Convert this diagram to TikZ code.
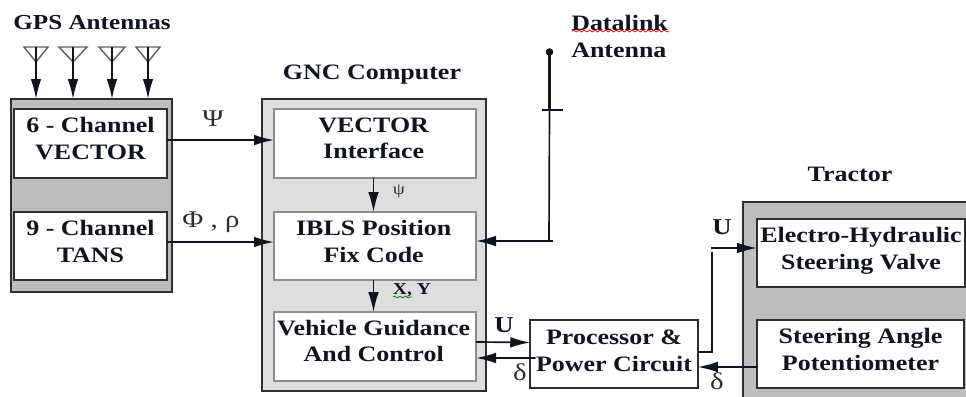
\documentclass[tikz,border=0pt]{standalone}
\usepackage{fontspec}
\setmainfont{Liberation Serif}[FakeStretch=1.18]
\newfontfamily\grk{Liberation Serif}[FakeStretch=1.2]
\usetikzlibrary{arrows.meta,decorations.pathmorphing}
\definecolor{ink}{HTML}{10141E}
\definecolor{midgray}{HTML}{BEBEBE}
\definecolor{lightgray}{HTML}{DEDEDE}
\definecolor{edge}{HTML}{2E2E2E}
\definecolor{softedge}{HTML}{8C8C8C}
\newcommand\twol[3][8pt]{\raisebox{#1}[0pt][0pt]{\begin{tabular}[t]{@{}c@{}}#2\\#3\end{tabular}}}
\tikzset{
  wh/.style 2 args={minimum width=#1*0.75pt,minimum height=#2*0.75pt},
  base/.style={inner sep=0pt,outer sep=0pt,rectangle},
  outerbox/.style={base,draw=edge,line width=1.4pt,fill=midgray},
  gncbox/.style={base,draw=edge,line width=1.4pt,fill=lightgray},
  whitebox/.style={base,draw=edge,line width=1.3pt,fill=white,text=ink,font=\bfseries\fontsize{16.5}{20}\selectfont},
  softbox/.style={whitebox,draw=softedge,line width=1.5pt},
  title/.style={inner sep=0pt,text=ink,font=\bfseries\fontsize{16.5}{20}\selectfont},
  sym/.style={inner sep=0pt,text=edge,font=\grk\fontsize{18}{20}\selectfont},
  boldsym/.style={inner sep=0pt,text=ink,font=\bfseries\fontsize{17}{20}\selectfont},
  conn/.style={draw=ink,line width=1.25pt,-{Latex[length=15pt,width=8pt]}},
  plain/.style={draw=ink,line width=1.25pt},
  fork/.style={draw=softedge!70!black,line width=1.1pt,line join=miter},
  squig/.style={line width=.6pt,decorate,decoration={snake,amplitude=.7pt,segment length=4pt}},
}
\begin{document}
\begin{tikzpicture}[x=.75pt,y=-.75pt]
\useasboundingbox (0,0) rectangle (966,396);
\clip (0,0) rectangle (966,396);
% containers
\node[outerbox,wh={161}{193}] (gps) at (91.5,195.5) {};
\node[gncbox,wh={224}{292}] (gnc) at (374,245) {};
\node[outerbox,wh={240}{210}] (tractor) at (863,307) {};
% inner boxes
\node[whitebox,wh={152.5}{69}] (six) at (90.5,143.5) {\twol[8pt]{6 - Channel}{VECTOR}};
\node[whitebox,wh={152.5}{68}] (nine) at (90.5,246) {\twol[8pt]{9 - Channel}{TANS}};
\node[softbox,wh={202}{69}] (vi) at (375,143.5) {\hspace*{-2pt}\twol[8.5pt]{VECTOR}{Interface}};
\node[softbox,wh={202}{68}] (ibls) at (375,246) {\hspace*{-2pt}\twol[8pt]{IBLS Position}{Fix Code}};
\node[softbox,wh={202}{69}] (vgc) at (375,346.5) {\hspace*{-2pt}\twol[8.5pt]{Vehicle Guidance}{And Control}};
\node[whitebox,wh={167.5}{68}] (proc) at (614,354) {\twol[7pt]{Processor \&}{Power Circuit}};
\node[whitebox,wh={208}{68}] (valve) at (861,253) {\twol[8pt]{Electro-Hydraulic}{Steering Valve}};
\node[whitebox,wh={207}{68}] (pot) at (860.5,354) {\twol[8pt]{Steering Angle}{Potentiometer}};
% titles
\node[title,font=\bfseries\fontsize{16}{20}\selectfont] (tgps) at (92,23) {GPS Antennas};
\node[title] (tgnc) at (372,75) {GNC Computer};
\node[title,anchor=west] (tdl1) at (571,23) {Datalink};
\node[title,anchor=west] (tdl2) at (571,50) {Antenna};
\node[title] (ttr) at (850,174) {Tractor};
% symbols
\node[sym] (lpsi) at (213,119) {Ψ};
\node[sym] (lphi) at (211,222) {Φ , ρ};
\node[sym,font=\grk\fontsize{12}{12}\selectfont] (lpsi2) at (399,191) {ψ};
\node[boldsym,font=\bfseries\fontsize{12.5}{12}\selectfont] (lxy) at (412,290) {X, Y};
\node[boldsym] (lu1) at (504,325) {U};
\node[sym] (ld1) at (520,372) {δ};
\node[boldsym] (lu2) at (722,227) {U};
\node[sym] (ld2) at (717,381) {δ};
% GPS antennas
\foreach \n/\x/\w in {1/36/12,2/73/14,3/112/13,4/148/12}{
  \coordinate (ant\n) at (\x,47);
  \coordinate (apex\n) at (\x,62);
  \draw[fork] (\x-\w,47) -- (\x+\w,47) -- (apex\n) -- cycle;
  \draw[conn] (ant\n) -- (gps.north -| ant\n);
}
% connectors
\draw[conn] ([yshift=2.6pt]six.east) -- ([yshift=2.6pt]vi.west);
\draw[conn] ([yshift=3pt]nine.east) -- ([yshift=3pt]ibls.west);
\draw[conn] (vi.south -| 373.5,0) -- (ibls.north -| 373.5,0);
\draw[conn] (ibls.south -| 373.5,0) -- (vgc.north -| 373.5,0);
\draw[conn] ([yshift=3.4pt]vgc.east) -- ([yshift=8.6pt]proc.west);
\draw[conn] ([yshift=-3pt,xshift=4pt]proc.west) -- ([yshift=-8.6pt]vgc.east);
% datalink antenna
\coordinate (dltop) at (549.5,52);
\coordinate (dlbar) at (549.5,110);
\coordinate (dlfoot) at (549,241);
\draw[draw=ink,line width=2.2pt] (dltop) -- (dlbar);
\fill[ink] (dltop) circle[radius=3.8pt*.75];
\draw[draw=ink,line width=1.8pt] (542,110) -- (563,110);
\draw[plain] (dlbar) -- (dlfoot);
\draw[conn] (553,241) -- (ibls.east |- dlfoot);
% processor to valve
\coordinate (ubend) at (712,352);
\coordinate (utop) at (712,252);
\coordinate (ustart) at (711,248);
\draw[plain] (proc.east |- ubend) -- (ubend) -- (utop);
\draw[conn] (ustart) -- (valve.west |- ustart);
\coordinate (dport) at (700,367);
\draw[conn] (pot.west |- dport) -- (proc.east |- dport);
% spell-check squiggles
\draw[squig,red] (572,31) -- (669,31);
\draw[squig,green!55!black] (393,297) -- (412,297);
\end{tikzpicture}
\end{document}
